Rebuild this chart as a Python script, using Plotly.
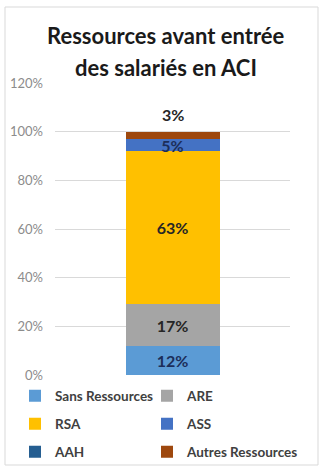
import plotly.graph_objects as go

# Resource shares before entry into ACI (fraction of employees)
categories = ["ACI"]
series_names = ["Sans Ressources", "ARE", "RSA", "ASS", "AAH", "Autres Ressources"]
series_values = [0.12, 0.17, 0.63, 0.05, 0.00, 0.03]
series_colors = ["#5B9BD5", "#A5A5A5", "#FFC000", "#4472C4", "#255E91", "#9E480E"]
label_colors = ["#1C2E5A", "#262626", "#262626", "#1C2E5A", "#262626", "#262626"]
y_ticks = [0, 0.2, 0.4, 0.6, 0.8, 1.0, 1.2]
y_tick_labels = ["0%", "20%", "40%", "60%", "80%", "100%", "120%"]
title_lines = ["Ressources avant entrée", "des salariés en ACI"]

FONT = "Lato"
W, H = 321, 470
ML, MR, MT, MB = 55, 31, 83, 95
PW, PH = W - ML - MR, H - MT - MB


def px_x(px):
    return (px - ML) / PW


def px_y(py):
    return (H - MB - py) / PH


# legend rows: two entries per row, one legend per row
row_of_series = ["legend", "legend", "legend2", "legend2", "legend3", "legend3"]
entry_widths = [87, 87, 87, 87, 87, 113]

fig = go.Figure()
last = len(series_names) - 1
for i, (name, val, col) in enumerate(zip(series_names, series_values, series_colors)):
    show_text = i != last and val > 0
    fig.add_trace(go.Bar(
        x=categories, y=[val], name=name,
        marker=dict(color=col, line=dict(width=0)),
        width=0.4,
        text=[f"{val:.0%}"] if show_text else None,
        textposition="inside",
        insidetextanchor="middle",
        constraintext="none",
        textangle=0,
        textfont=dict(family=FONT, size=16, color=label_colors[i], weight="bold"),
        legend=row_of_series[i],
        legendwidth=entry_widths[i],
        hoverinfo="skip",
    ))

# value of the top segment is written above the stack
total = sum(series_values)
fig.add_annotation(
    x=categories[0], y=total, xref="x", yref="y",
    text=f"{series_values[last]:.0%}", showarrow=False,
    yanchor="bottom", yshift=6,
    font=dict(family=FONT, size=16, color=label_colors[last], weight="bold"),
)

# two-line chart title
for line, cy in zip(title_lines, [36, 68]):
    fig.add_annotation(
        x=px_x(166), y=px_y(cy), xref="paper", yref="paper",
        text=line, showarrow=False, xanchor="center", yanchor="middle",
        font=dict(family=FONT, size=22, color="#1A1A1A", weight="bold"),
    )

legend_common = dict(
    orientation="h", xanchor="left", yanchor="middle",
    entrywidthmode="pixels",
    font=dict(family=FONT, size=13.5, color="#404040", weight="bold"),
    bgcolor="rgba(0,0,0,0)", itemclick=False, itemdoubleclick=False,
    traceorder="normal",
)
legend_x = px_x(15)
fig.update_layout(
    legend=dict(legend_common, x=legend_x, y=px_y(396)),
    legend2=dict(legend_common, x=legend_x, y=px_y(424)),
    legend3=dict(legend_common, x=legend_x, y=px_y(452)),
)

# chart frame
fig.add_shape(type="rect", xref="paper", yref="paper",
              x0=px_x(5), x1=px_x(318), y0=px_y(465), y1=px_y(7),
              line=dict(color="#D9D9D9", width=1), fillcolor="rgba(0,0,0,0)",
              layer="below")

fig.update_layout(
    width=W, height=H,
    margin=dict(l=ML, r=MR, t=MT, b=MB, autoexpand=False),
    paper_bgcolor="white", plot_bgcolor="white",
    barmode="stack",
    showlegend=True,
    xaxis=dict(showticklabels=False, showgrid=False, zeroline=False,
               showline=False, ticks="", range=[-0.5, 0.5]),
    yaxis=dict(range=[0, 1.2], tickvals=y_ticks, ticktext=y_tick_labels,
               showgrid=True, gridcolor="#D9D9D9", gridwidth=1,
               zeroline=False, showline=False, ticks="",
               ticklabelstandoff=11,
               tickfont=dict(family=FONT, size=13, color="#8C8C8C")),
)

fig.write_html("out.html")
